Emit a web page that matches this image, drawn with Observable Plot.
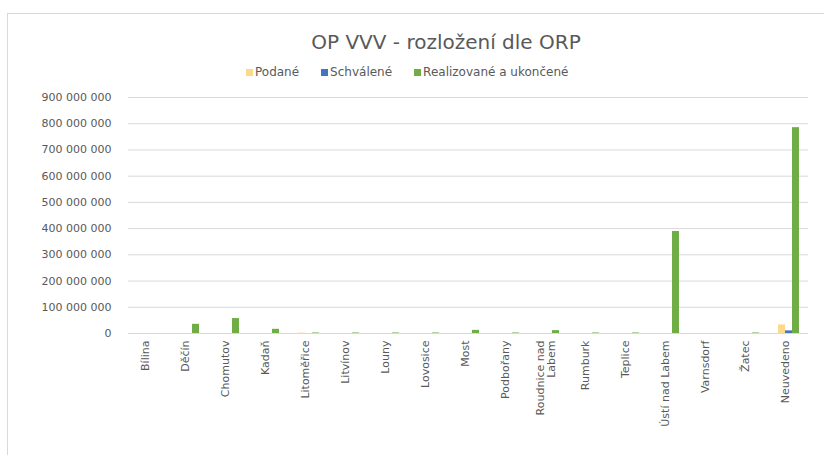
<!DOCTYPE html>
<html>
<head>
<meta charset="utf-8">
<script src="https://cdn.jsdelivr.net/npm/d3@7"></script>
<script src="https://cdn.jsdelivr.net/npm/@observablehq/plot@0.6"></script>
<style>
  html, body { margin: 0; padding: 0; background: #fff; }
  body { width: 824px; height: 455px; position: relative; overflow: hidden; font-family: "DejaVu Sans", sans-serif; color: #595959; }
  #frame { position: absolute; left: 7px; top: 13px; width: 830px; height: 460px; border-left: 1px solid #d9d9d9; border-top: 1px solid #d9d9d9; }
  #title { position: absolute; left: 0; width: 892px; top: 30px; text-align: center; font-size: 20px; line-height: 24px; color: #595959; }
  #legend { position: absolute; left: 246px; top: 64px; display: flex; justify-content: flex-start; gap: 22px; font-size: 12px; line-height: 16px; }
  .item { display: flex; align-items: center; }
  .sw { width: 7px; height: 7px; margin-right: 2px; display: inline-block; }
  #chart { position: absolute; left: 0; top: 0; }
</style>
</head>
<body>
<div id="frame"></div>
<div id="title">OP VVV - rozložení dle ORP</div>
<div id="legend"></div>
<div id="chart"></div>
<script>
const categories = ["Bílina","Děčín","Chomutov","Kadaň","Litoměřice","Litvínov","Louny","Lovosice","Most","Podbořany","Roudnice nad\nLabem","Rumburk","Teplice","Ústí nad Labem","Varnsdorf","Žatec","Neuvedeno"];
const seriesNames = ["Podané","Schválené","Realizované a ukončené"];
const seriesColors = ["#ffd98a","#4472c4","#70ad47"];
const podane =      [0, 0, 0, 0, 1500000, 0, 0, 0, 0, 0, 0, 0, 0, 0, 0, 0, 33000000];
const schvalene =   [0, 0, 0, 0, 0, 0, 0, 0, 0, 0, 0, 0, 0, 0, 0, 0, 10000000];
const realizovane = [0, 35000000, 57000000, 16000000, 2000000, 2000000, 2000000, 2000000, 12000000, 2000000, 11000000, 2000000, 2000000, 389000000, 0, 2000000, 785000000];
const yTicks = [0, 100000000, 200000000, 300000000, 400000000, 500000000, 600000000, 700000000, 800000000, 900000000];

const seriesValues = [podane, schvalene, realizovane];
const data = [];
categories.forEach((c, i) => {
  seriesNames.forEach((s, j) => data.push({category: c, series: s, value: seriesValues[j][i]}));
});

const fmt = v => d3.format(",")(v).replace(/,/g, " ");

const legend = document.getElementById("legend");
seriesNames.forEach((s, j) => {
  const it = document.createElement("div");
  it.className = "item";
  const sw = document.createElement("span");
  sw.className = "sw";
  sw.style.background = seriesColors[j];
  it.appendChild(sw);
  it.appendChild(document.createTextNode(s));
  legend.appendChild(it);
});

const chart = Plot.plot({
  width: 824,
  height: 455,
  marginTop: 97,
  marginBottom: 122,
  marginLeft: 123,
  marginRight: 11,
  style: {fontFamily: "DejaVu Sans, sans-serif", fontSize: "11px", color: "#595959", background: "transparent"},
  fx: {domain: categories, padding: 0, label: null},
  x: {domain: seriesNames, paddingInner: 0, paddingOuter: 1.07, axis: null},
  y: {domain: [0, 900000000], label: null},
  color: {domain: seriesNames, range: seriesColors},
  marks: [
    Plot.gridY(yTicks, {stroke: "#d9d9d9", strokeOpacity: 1}),
    Plot.axisY(yTicks, {tickSize: 0, tickPadding: 17, tickFormat: fmt, label: null, fill: "#595959", fontSize: 11}),
    Plot.axisFx({anchor: "bottom", tickRotate: -90, tickSize: 0, tickPadding: 7, dx: -3, label: null, fill: "#595959", fontSize: 11}),
    Plot.barY(data, {fx: "category", x: "series", y: "value", fill: "series"}),
    Plot.ruleY([0], {stroke: "#d9d9d9"})
  ]
});
document.getElementById("chart").appendChild(chart);
</script>
</body>
</html>
